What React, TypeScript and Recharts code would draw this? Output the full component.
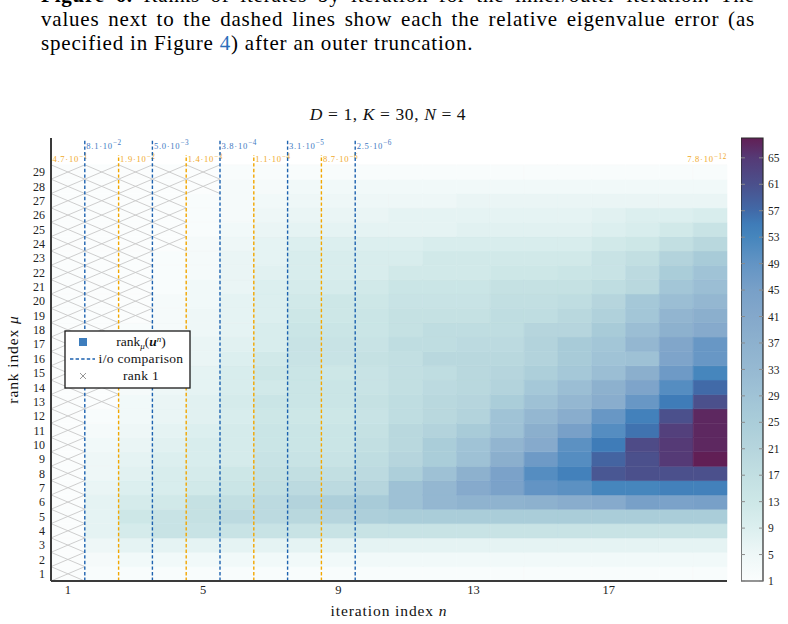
import React from 'react';
import { ComposedChart, XAxis, YAxis, ReferenceArea, ReferenceLine } from 'recharts';

// ---------- data ----------
const iterations = [1, 2, 3, 4, 5, 6, 7, 8, 9, 10, 11, 12, 13, 14, 15, 16, 17, 18, 19, 20];
const rankIndices = [1, 2, 3, 4, 5, 6, 7, 8, 9, 10, 11, 12, 13, 14, 15, 16, 17, 18, 19, 20, 21, 22, 23, 24, 25, 26, 27, 28, 29];
const xTicks = [1, 5, 9, 13, 17];
const colorbarTicks = [1, 5, 9, 13, 17, 21, 25, 29, 33, 37, 41, 45, 49, 53, 57, 61, 65];

// rank_mu(u^n) for mu = 1..29, one array per iteration n
const rankN01 = [1, 1, 1, 1, 1, 1, 1, 1, 1, 1, 1, 1, 1, 1, 1, 1, 1, 1, 1, 1, 1, 1, 1, 1, 1, 1, 1, 1, 1];
const rankN02 = [2, 3, 5, 7, 7, 7, 6, 5, 5, 4, 3, 2, 1, 1, 1, 1, 1, 1, 1, 1, 1, 1, 1, 1, 1, 1, 1, 1, 1];
const rankN03 = [2, 4, 7, 11, 13, 11, 9, 8, 7, 6, 5, 4, 4, 3, 3, 3, 2, 2, 1, 1, 1, 1, 1, 1, 1, 1, 1, 1, 1];
const rankN04 = [2, 4, 7, 15, 15, 12, 10, 10, 9, 8, 7, 6, 6, 5, 5, 4, 4, 3, 3, 3, 2, 2, 2, 1, 1, 1, 1, 1, 1];
const rankN05 = [2, 4, 7, 15, 16, 16, 12, 11, 10, 10, 9, 8, 8, 7, 7, 6, 6, 5, 5, 4, 4, 3, 3, 3, 2, 2, 2, 1, 1];
const rankN06 = [2, 4, 7, 15, 19, 17, 14, 13, 11, 11, 11, 10, 11, 10, 10, 9, 8, 7, 7, 7, 6, 6, 6, 5, 4, 3, 3, 3, 2];
const rankN07 = [2, 4, 7, 15, 19, 19, 17, 16, 15, 14, 14, 13, 14, 12, 13, 12, 10, 10, 9, 9, 9, 8, 7, 7, 6, 5, 4, 3, 2];
const rankN08 = [2, 4, 7, 15, 20, 22, 19, 17, 15, 14, 14, 13, 14, 14, 14, 15, 15, 14, 13, 12, 11, 10, 10, 9, 7, 6, 5, 4, 2];
const rankN09 = [2, 4, 7, 15, 21, 24, 19, 17, 15, 14, 14, 13, 14, 14, 13, 15, 15, 14, 13, 13, 11, 10, 10, 9, 7, 6, 5, 4, 2];
const rankN10 = [2, 4, 7, 15, 24, 26, 21, 19, 18, 17, 16, 15, 16, 15, 15, 16, 15, 14, 14, 13, 12, 10, 10, 9, 7, 6, 5, 4, 2];
const rankN11 = [2, 4, 7, 15, 25, 30, 30, 24, 21, 20, 20, 18, 18, 17, 17, 17, 18, 16, 16, 15, 14, 12, 10, 9, 7, 7, 5, 4, 2];
const rankN12 = [2, 4, 7, 15, 25, 34, 34, 30, 25, 25, 22, 20, 20, 19, 18, 20, 18, 18, 16, 15, 14, 12, 12, 10, 7, 7, 5, 4, 2];
const rankN13 = [2, 4, 7, 15, 25, 36, 40, 37, 30, 29, 26, 22, 21, 20, 20, 20, 19, 18, 16, 15, 14, 12, 12, 10, 8, 7, 6, 4, 2];
const rankN14 = [2, 4, 7, 15, 25, 36, 44, 44, 38, 35, 30, 29, 25, 22, 21, 20, 19, 18, 18, 17, 16, 13, 12, 10, 8, 7, 6, 4, 2];
const rankN15 = [2, 4, 7, 15, 25, 37, 49, 51, 47, 40, 38, 34, 30, 27, 24, 22, 22, 21, 18, 17, 16, 13, 12, 10, 8, 7, 6, 4, 2];
const rankN16 = [2, 4, 7, 15, 25, 39, 50, 54, 51, 50, 45, 39, 34, 31, 27, 26, 26, 21, 20, 18, 16, 14, 12, 10, 8, 7, 6, 4, 2];
const rankN17 = [2, 4, 7, 15, 25, 40, 53, 60, 58, 55, 51, 48, 39, 37, 31, 29, 28, 26, 23, 21, 18, 15, 15, 12, 9, 8, 6, 4, 2];
const rankN18 = [2, 4, 7, 15, 25, 45, 53, 61, 61, 62, 56, 54, 48, 43, 38, 30, 34, 31, 28, 27, 20, 19, 17, 13, 10, 9, 6, 4, 2];
const rankN19 = [2, 4, 7, 15, 25, 44, 54, 61, 65, 65, 64, 61, 55, 51, 47, 43, 42, 37, 35, 31, 28, 25, 22, 17, 12, 9, 6, 4, 2];
const rankN20 = [2, 4, 7, 15, 25, 45, 54, 61, 68, 67, 67, 67, 61, 57, 53, 48, 48, 40, 38, 34, 31, 29, 26, 20, 15, 10, 6, 4, 2];

const ranksByIteration = [
  rankN01, rankN02, rankN03, rankN04, rankN05, rankN06, rankN07, rankN08, rankN09, rankN10,
  rankN11, rankN12, rankN13, rankN14, rankN15, rankN16, rankN17, rankN18, rankN19, rankN20,
];

// inner/outer comparison (blue dashed) and outer truncations (orange dashed)
const ioComparisonAt = [1.5, 3.5, 5.5, 7.5, 9.5];
const ioComparisonMantissa = ['8.1', '5.0', '3.8', '3.1', '2.5'];
const ioComparisonExponent = ['2', '3', '4', '5', '6'];
const truncationAt = [0.5, 2.5, 4.5, 6.5, 8.5];
const truncationMantissa = ['4.7', '1.9', '1.4', '1.1', '8.7'];
const truncationExponent = ['1', '2', '3', '4', '6'];
const finalErrorMantissa = '7.8';
const finalErrorExponent = '12';

// colormap (value -> colour)
const cmapValues = [1, 5, 9, 13, 17, 21, 25, 29, 33, 37, 41, 45, 49, 53, 55, 57, 61, 65, 68];
const cmapColors = ['#fbfdfd', '#eef7f7', '#dcefef', '#cde7e7', '#c2dfe2', '#b6d5dd', '#aacdd9', '#a0c3d6',
  '#96b9d2', '#8db1ce', '#84a8cb', '#78a0c8', '#6394c4', '#4686bd', '#3f7cb8', '#416aa8', '#4b508c', '#553a76', '#611f55'];

// ---------- helpers ----------
const CB_MIN = 1;
const CB_MAX = 68;
const Y_MAX = 31.37;
const BLUE_TOP = 31.3;
const ORANGE_TOP = 30.19;
const SERIF = '"Liberation Serif", "Times New Roman", serif';

function hexToRgb(h: string) {
  return [parseInt(h.slice(1, 3), 16), parseInt(h.slice(3, 5), 16), parseInt(h.slice(5, 7), 16)];
}
function colorFor(v: number) {
  if (v <= cmapValues[0]) return cmapColors[0];
  for (let i = 1; i < cmapValues.length; i++) {
    if (v <= cmapValues[i]) {
      const t = (v - cmapValues[i - 1]) / (cmapValues[i] - cmapValues[i - 1]);
      const a = hexToRgb(cmapColors[i - 1]);
      const b = hexToRgb(cmapColors[i]);
      const c = a.map((x, k) => Math.round(x + (b[k] - x) * t));
      return `rgb(${c[0]},${c[1]},${c[2]})`;
    }
  }
  return cmapColors[cmapColors.length - 1];
}

function ErrLabel(props: any) {
  const { viewBox, mant, exp, color, dy, anchor } = props;
  if (!viewBox) return null;
  const x = anchor === 'end' ? viewBox.x : viewBox.x + 1.5;
  return (
    <text x={x} y={viewBox.y + dy} fill={color} fontSize={8.6} letterSpacing={0.7}
      textAnchor={anchor || 'start'} fontFamily={SERIF}>
      {mant}·10<tspan dy={-3.2} fontSize={7.2}>−{exp}</tspan>
    </text>
  );
}

export default function App() {
  const cells: { n: number; mu: number; r: number }[] = [];
  iterations.forEach((n, i) => {
    ranksByIteration[i].forEach((r, j) => cells.push({ n, mu: rankIndices[j], r }));
  });
  const rankOne = cells.filter((c) => c.r === 1);

  return (
    <div style={{ position: 'absolute', left: 0, top: 0, width: 788, height: 624, overflow: 'hidden', background: '#fff', fontFamily: SERIF }}>
      {/* caption */}
      <div style={{ position: 'absolute', left: 41, top: -17.5, width: 714, fontSize: 21, lineHeight: '24px', letterSpacing: 0.8, color: '#000' }}>
        <div style={{ textAlign: 'justify', textAlignLast: 'justify' }}><b>Figure 6.</b> Ranks of iterates by iteration for the inner/outer iteration. The</div>
        <div style={{ textAlign: 'justify', textAlignLast: 'justify' }}>values next to the dashed lines show each the relative eigenvalue error (as</div>
        <div>specified in Figure <span style={{ color: '#2a6ebb' }}>4</span>) after an outer truncation.</div>
      </div>

      <ComposedChart width={788} height={624} margin={{ top: 138, right: 61, bottom: 13, left: 21 }}
        style={{ position: 'absolute', left: 0, top: 0 }}>
        {cells.map((c) => (
          <ReferenceArea key={`c-${c.n}-${c.mu}`} x1={c.n - 0.5} x2={c.n + 0.5} y1={c.mu - 0.5} y2={c.mu + 0.5}
            fill={colorFor(c.r)} fillOpacity={1} stroke={colorFor(c.r)} strokeWidth={0.6} ifOverflow="visible" />
        ))}
        {rankOne.map((c) => (
          <ReferenceLine key={`xa-${c.n}-${c.mu}`} segment={[{ x: c.n - 0.5, y: c.mu - 0.5 }, { x: c.n + 0.5, y: c.mu + 0.5 }]}
            stroke="#c8c8c8" strokeWidth={0.9} ifOverflow="visible" />
        ))}
        {rankOne.map((c) => (
          <ReferenceLine key={`xb-${c.n}-${c.mu}`} segment={[{ x: c.n - 0.5, y: c.mu + 0.5 }, { x: c.n + 0.5, y: c.mu - 0.5 }]}
            stroke="#c8c8c8" strokeWidth={0.9} ifOverflow="visible" />
        ))}
        {truncationAt.map((x, i) => (
          <ReferenceLine key={`o-${i}`} segment={[{ x, y: 0.5 }, { x, y: ORANGE_TOP }]} stroke="#f2a600" strokeWidth={1.4}
            strokeDasharray="3.4 2.2" ifOverflow="visible"
            label={<ErrLabel mant={truncationMantissa[i]} exp={truncationExponent[i]} color="#f0a928" dy={7.5} />} />
        ))}
        <ReferenceLine segment={[{ x: 20.5, y: 0.5 }, { x: 20.5, y: ORANGE_TOP }]} stroke="none" ifOverflow="visible"
          label={<ErrLabel mant={finalErrorMantissa} exp={finalErrorExponent} color="#f0a928" dy={7.5} anchor="end" />} />
        {ioComparisonAt.map((x, i) => (
          <ReferenceLine key={`b-${i}`} segment={[{ x, y: 0.5 }, { x, y: BLUE_TOP }]} stroke="#1d62b0" strokeWidth={1.4}
            strokeDasharray="3.4 2.2" ifOverflow="visible"
            label={<ErrLabel mant={ioComparisonMantissa[i]} exp={ioComparisonExponent[i]} color="#3d78c2" dy={9.5} />} />
        ))}
        <XAxis type="number" dataKey="n" domain={[0.5, 20.5]} ticks={xTicks} interval={0} allowDataOverflow
          height={30} tickSize={0} tickMargin={4} tickLine={false}
          axisLine={{ stroke: '#3a3a3a', strokeWidth: 2 }}
          tick={{ fontSize: 12.5, fill: '#222', fontFamily: SERIF }} />
        <YAxis type="number" dataKey="mu" domain={[0.5, Y_MAX]} ticks={rankIndices} interval={0} allowDataOverflow
          width={30} tickSize={0} tickMargin={6} tickLine={false}
          axisLine={{ stroke: '#3a3a3a', strokeWidth: 2 }}
          tick={{ fontSize: 12, fill: '#222', fontFamily: SERIF }} />
      </ComposedChart>

      {/* colour bar */}
      <ComposedChart width={47} height={624} margin={{ top: 138, right: 0, bottom: 43, left: 0 }}
        style={{ position: 'absolute', left: 741, top: 0 }}>
        <defs>
          <linearGradient id="cbGrad" x1="0" y1="1" x2="0" y2="0">
            {cmapValues.map((v, i) => (
              <stop key={v} offset={(v - CB_MIN) / (CB_MAX - CB_MIN)} stopColor={cmapColors[i]} />
            ))}
          </linearGradient>
        </defs>
        <ReferenceArea x1={0} x2={1} y1={CB_MIN} y2={CB_MAX} fill="url(#cbGrad)" fillOpacity={1}
          stroke="#2b2b2b" strokeWidth={1.2} ifOverflow="visible" />
        {colorbarTicks.map((t) => (
          <ReferenceLine key={`tl-${t}`} segment={[{ x: 0, y: t }, { x: 0.18, y: t }]} stroke="#8a8a8a" strokeWidth={1} ifOverflow="visible" />
        ))}
        {colorbarTicks.map((t) => (
          <ReferenceLine key={`tr-${t}`} segment={[{ x: 0.82, y: t }, { x: 1, y: t }]} stroke="#8a8a8a" strokeWidth={1} ifOverflow="visible" />
        ))}
        <XAxis type="number" dataKey="x" domain={[0, 1]} allowDataOverflow height={0} tick={false} axisLine={false} tickLine={false} />
        <YAxis type="number" dataKey="v" orientation="right" domain={[CB_MIN, CB_MAX]} ticks={colorbarTicks} interval={0} allowDataOverflow
          width={25} axisLine={false} tickLine={false} tickSize={0} tickMargin={5}
          tick={{ fontSize: 11.5, fill: '#222', fontFamily: SERIF }} />
      </ComposedChart>

      {/* titles and legend */}
      <svg width={788} height={624} style={{ position: 'absolute', left: 0, top: 0, pointerEvents: 'none' }} fontFamily={SERIF}>
        <text x={388} y={120} textAnchor="middle" fontSize={17.5} letterSpacing={0.6} fill="#111">
          <tspan fontStyle="italic">D</tspan> = 1,  <tspan fontStyle="italic">K</tspan> = 30,  <tspan fontStyle="italic">N</tspan> = 4
        </text>
        <text x={389} y={616} textAnchor="middle" fontSize={15.5} letterSpacing={0.9} fill="#111">
          iteration index <tspan fontStyle="italic">n</tspan>
        </text>
        <text transform="translate(18,359.5) rotate(-90)" textAnchor="middle" fontSize={15.5} letterSpacing={0.9} fill="#111">
          rank index <tspan fontStyle="italic">μ</tspan>
        </text>
        <g>
          <rect x={65} y={331} width={125} height={57} fill="#fff" stroke="#1a1a1a" strokeWidth={1.3} />
          <rect x={79} y={338} width={8} height={8} fill="#3d7dbd" />
          <line x1={70} y1={359} x2={95} y2={359} stroke="#1d62b0" strokeWidth={1.5} strokeDasharray="3.4 2.2" />
          <line x1={80} y1={373} x2={86} y2={379} stroke="#8a8a8a" strokeWidth={0.9} />
          <line x1={80} y1={379} x2={86} y2={373} stroke="#8a8a8a" strokeWidth={0.9} />
          <text x={141} y={346} textAnchor="middle" fontSize={13.5} fill="#111">
            rank<tspan fontSize={9} fontStyle="italic" dy={2.5}>μ</tspan><tspan dy={-2.5}>(</tspan><tspan fontWeight="bold" fontStyle="italic">u</tspan><tspan fontSize={9} fontStyle="italic" dy={-4.5}>n</tspan><tspan dy={4.5}>)</tspan>
          </text>
          <text x={141} y={363} textAnchor="middle" fontSize={13.5} letterSpacing={0.3} fill="#111">i/o comparison</text>
          <text x={141} y={380} textAnchor="middle" fontSize={13.5} letterSpacing={0.3} fill="#111">rank 1</text>
        </g>
      </svg>
    </div>
  );
}
